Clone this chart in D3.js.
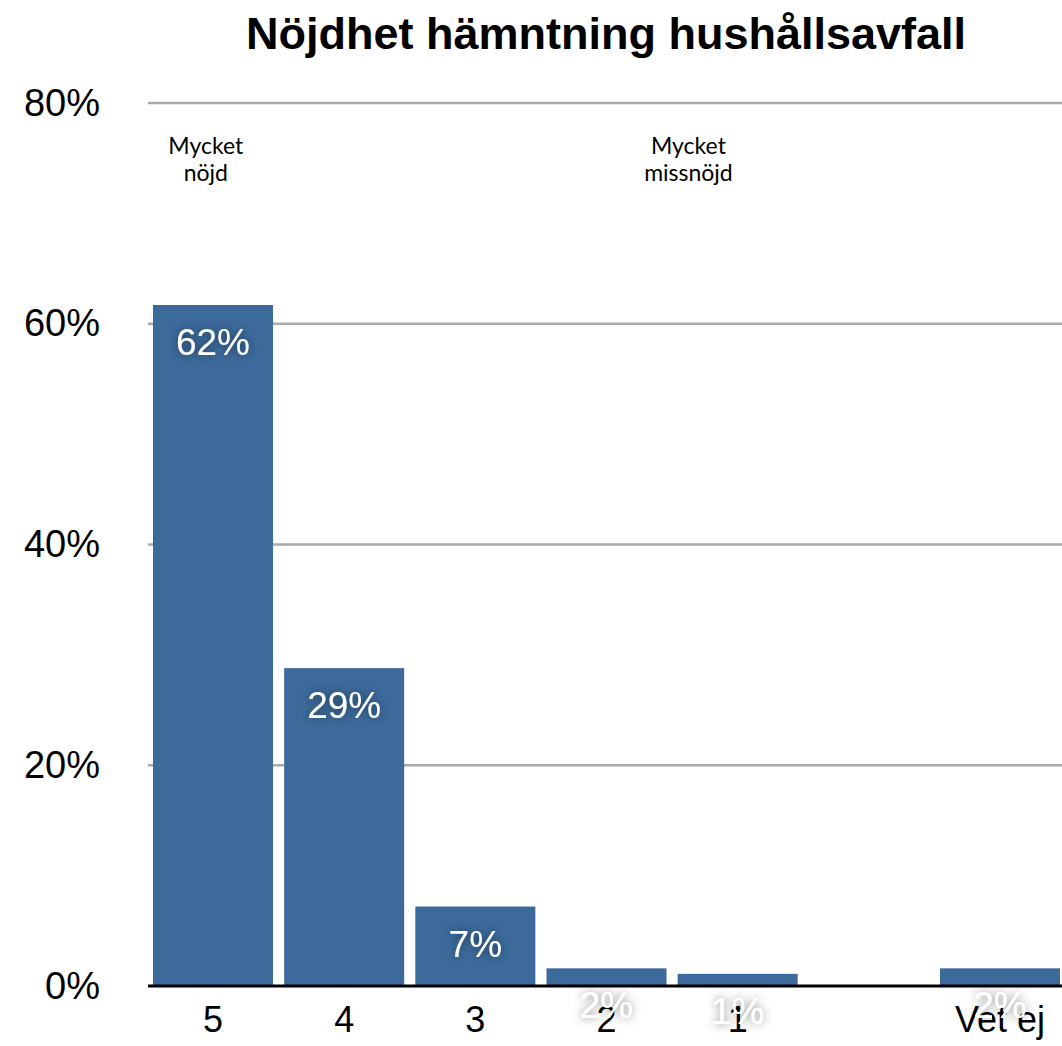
<!DOCTYPE html>
<html>
<head>
<meta charset="utf-8">
<script src="https://cdn.jsdelivr.net/npm/d3@7"></script>
<style>
  body { margin: 0; background: #fff; }
  svg text { font-family: "Liberation Sans", Arial, sans-serif; }
</style>
</head>
<body>
<div id="chart"></div>
<script>
// chart data
const categories = ["5", "4", "3", "2", "1", "", "Vet ej"];
const values = [61.7, 28.8, 7.2, 1.6, 1.1, null, 1.6];
const valueLabels = ["62%", "29%", "7%", "2%", "1%", "", "2%"];
const yTicks = [0, 20, 40, 60, 80];
const notes = [
  {cat: "5", pos: 0.44, lines: ["Mycket", "nöjd"]},
  {cat: "1", pos: 0.09, lines: ["Mycket", "missnöjd"]}
];
const title = "Nöjdhet hämntning hushållsavfall";

const width = 1062, height = 1046,
      margin = {top: 103, right: 0, bottom: 60, left: 148};

const innerWidth = width - margin.left - margin.right,
      innerHeight = height - margin.top - margin.bottom;

const svg = d3.select("#chart")
              .append("svg")
                .attr("width", width)
                .attr("height", height);

// glow behind the value labels
const defs = svg.append("defs");
const glow = defs.append("filter")
  .attr("id", "glow")
  .attr("x", "-50%").attr("y", "-50%")
  .attr("width", "200%").attr("height", "200%");
glow.append("feDropShadow")
  .attr("dx", 0).attr("dy", 0)
  .attr("stdDeviation", 5)
  .attr("flood-color", "#000")
  .attr("flood-opacity", 0.5);

svg.append("text")
  .attr("x", 606)
  .attr("y", 49)
  .attr("text-anchor", "middle")
  .style("font-size", "45px")
  .style("font-weight", "bold")
  .text(title);

const g = svg.append("g")
  .attr("transform", "translate(" + margin.left + "," + margin.top + ")");

const xScale = d3.scaleBand()
  .domain(categories)
  .range([5, 912])
  .paddingInner(0.085)
  .paddingOuter(0);

const yScale = d3.scaleLinear()
  .domain([0, 80])
  .range([innerHeight, 0]);

// gridlines
g.selectAll(".grid")
  .data(yTicks.filter(d => d > 0))
  .enter()
  .append("line")
  .attr("x1", 0)
  .attr("x2", innerWidth)
  .attr("y1", d => yScale(d))
  .attr("y2", d => yScale(d))
  .attr("stroke", "#aaaaaa")
  .attr("stroke-width", 2.5);

// y labels
const yAxis = g.append("g")
  .call(d3.axisLeft(yScale).tickValues(yTicks).tickSize(0).tickPadding(48).tickFormat(d => d + "%"));
yAxis.select(".domain").remove();
yAxis.selectAll("text")
  .style("font-size", "38px")
  .style("font-family", "'Liberation Sans', Arial, sans-serif")
  .attr("fill", "#000");

// bars
const barData = categories.map((c, i) => ({cat: c, value: values[i], label: valueLabels[i]}))
  .filter(d => d.value != null);

g.selectAll(".bar")
  .data(barData)
  .enter()
  .append("rect")
  .attr("x", d => xScale(d.cat))
  .attr("y", d => yScale(d.value))
  .attr("width", xScale.bandwidth())
  .attr("height", d => innerHeight - yScale(d.value))
  .attr("fill", "#3c6a9b");

// x axis
const xAxis = g.append("g")
  .attr("transform", "translate(0," + innerHeight + ")")
  .call(d3.axisBottom(xScale).tickSize(0).tickPadding(20));
xAxis.select(".domain")
  .attr("d", "M0,0H" + innerWidth)
  .attr("stroke", "#000")
  .attr("stroke-width", 3);
xAxis.selectAll("text")
  .style("font-size", "36px")
  .style("font-family", "'Liberation Sans', Arial, sans-serif")
  .attr("fill", "#000");

// value labels
g.selectAll(".val")
  .data(barData)
  .enter()
  .append("text")
  .attr("x", d => xScale(d.cat) + xScale.bandwidth() / 2)
  .attr("y", d => yScale(d.value) + 50)
  .attr("text-anchor", "middle")
  .attr("fill", "#fff")
  .attr("filter", "url(#glow)")
  .style("font-size", "37px")
  .text(d => d.label);

// notes
notes.forEach(function(n) {
  const t = g.append("text")
    .attr("x", xScale(n.cat) + xScale.bandwidth() * n.pos)
    .attr("y", 51)
    .attr("text-anchor", "middle")
    .style("font-family", "Lato, sans-serif")
    .style("font-size", "23px");
  n.lines.forEach(function(l, i) {
    t.append("tspan")
      .attr("x", xScale(n.cat) + xScale.bandwidth() * n.pos)
      .attr("dy", i === 0 ? 0 : 27)
      .text(l);
  });
});
</script>
</body>
</html>
